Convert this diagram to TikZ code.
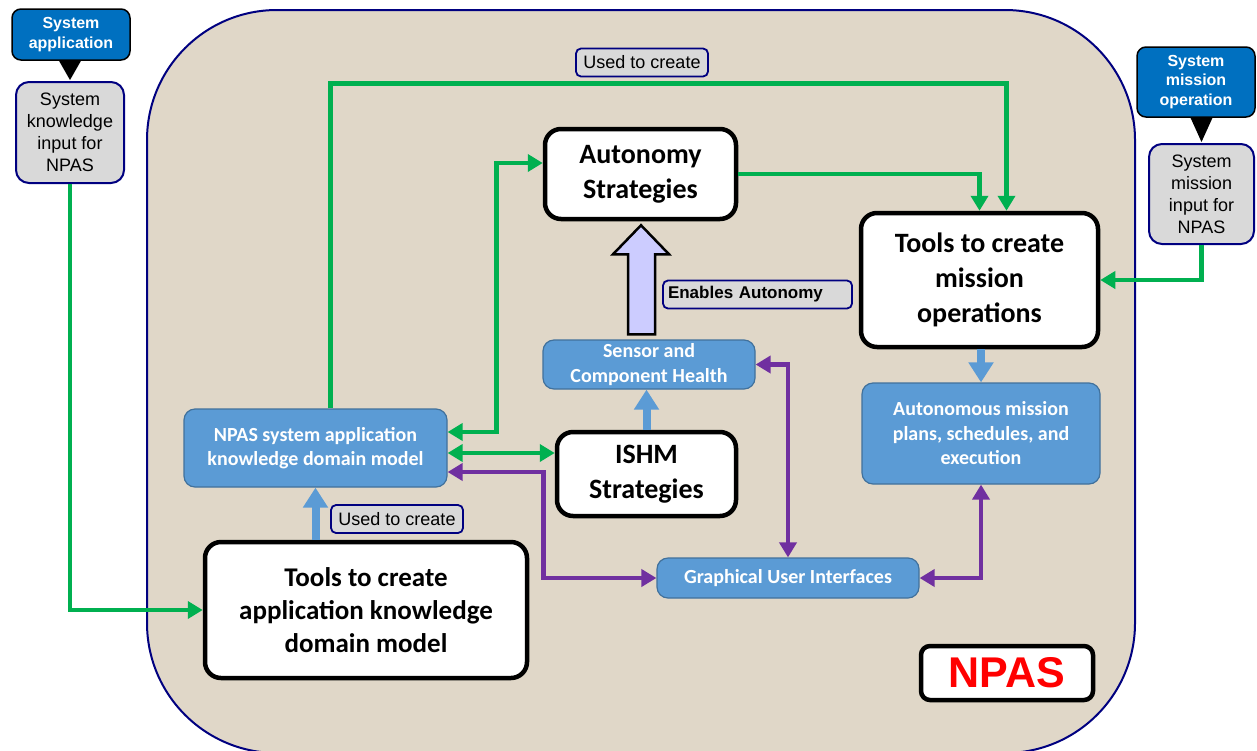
\documentclass[tikz,border=0pt]{standalone}
\usepackage{fontspec}
\newfontfamily\calibri{Carlito}
\newfontfamily\arial{Liberation Sans}
\usetikzlibrary{positioning, calc, arrows.meta}

\definecolor{bgbeige}{RGB}{224,215,200}
\definecolor{framenavy}{RGB}{0,0,128}
\definecolor{srcblue}{RGB}{0,112,192}
\definecolor{inputgray}{RGB}{217,217,217}
\definecolor{boxblue}{RGB}{91,155,213}
\definecolor{boxedge}{RGB}{65,113,156}
\definecolor{linkgreen}{RGB}{0,176,80}
\definecolor{linkpurple}{RGB}{112,48,160}
\definecolor{liftlavender}{RGB}{204,204,255}
\definecolor{npasred}{RGB}{255,0,0}

\tikzset{
    bigbox/.style={draw=black, line width=4.5pt, fill=white, rounded corners=16pt, align=center, inner sep=0pt,
        font=\calibri\bfseries\fontsize{28}{35}\selectfont},
    bluebox/.style={draw=boxedge, line width=1.2pt, fill=boxblue, rounded corners=11pt, align=center, inner sep=0pt,
        text=white, font=\calibri\bfseries\fontsize{20}{24.5}\selectfont},
    srcbox/.style={draw=black, line width=1.5pt, fill=srcblue, rounded corners=9pt, align=center, inner sep=0pt,
        text=white, font=\arial\bfseries\fontsize{16}{19.5}\selectfont},
    inbox/.style={draw=framenavy, line width=2pt, fill=inputgray, rounded corners=13pt, align=center, inner sep=0pt,
        font=\arial\fontsize{18}{22}\selectfont},
    tagbox/.style={draw=framenavy, line width=1.8pt, fill=inputgray, rounded corners=5pt, inner sep=0pt,
        minimum height=28pt, font=\arial\fontsize{18}{22}\selectfont},
    greenlink/.style={draw=linkgreen, line width=4.8pt},
    purplelink/.style={draw=linkpurple, line width=4.8pt, {Triangle[length=15pt, width=17pt]}-{Triangle[length=15pt, width=17pt]}},
    bluelift/.style={draw=boxblue, line width=8pt, -{Triangle[length=20pt, width=24pt]}},
}

\begin{document}
\begin{tikzpicture}[x=1pt, y=-1pt]
        \useasboundingbox (0,0) rectangle (1257,750);
        \fill[white] (0,0) rectangle (1257,750);
        \draw[draw=framenavy, line width=2pt, fill=bgbeige, rounded corners=130pt] (147,10) rectangle (1135,753);

        % inputs from outside
        \node[srcbox, minimum width=118pt, minimum height=51pt] (sysapp) at (71,34.5) {System\\application};
        \node[inbox, minimum width=108pt, minimum height=101pt] (sysknow) at (70,132.5) {System\\knowledge\\input for\\NPAS};
        \node[srcbox, minimum width=118pt, minimum height=70pt] (sysop) at (1196,82) {System\\mission\\operation};
        \node[inbox, minimum width=105pt, minimum height=100pt] (sysmis) at (1201.5,194) {System\\mission\\input for\\NPAS};

        \foreach \src/\dst in {sysapp/sysknow, sysop/sysmis} {
            \fill ($(\dst.north |- \src.south)+(-11,0)$) -- ++(22,0) -- ($(\dst.north)+(0,-1)$) -- cycle;
        }

        % NPAS boxes
        \node[bigbox, minimum width=322pt, minimum height=136pt, font=\calibri\bfseries\fontsize{27}{33}\selectfont] (tooldm) at (366,610) {Tools to create\\application knowledge\\domain model};
        \node[bluebox, minimum width=263pt, minimum height=78pt] (npasdm) at (315.5,448) {NPAS system application\\knowledge domain model};
        \node[bigbox, minimum width=191pt, minimum height=90pt] (auto) at (640.5,174) {Autonomy\\Strategies};
        \node[bluebox, minimum width=212pt, minimum height=49pt] (sensor) at (649,364.5) {Sensor and\\Component Health};
        \node[bigbox, minimum width=179pt, minimum height=84pt] (ishm) at (646.5,474) {ISHM\\Strategies};
        \node[bigbox, minimum width=237pt, minimum height=134pt] (toolmo) at (979.5,280) {Tools to create\\mission\\operations};
        \node[bluebox, minimum width=238pt, minimum height=101pt] (automp) at (981,433.5) {Autonomous mission\\plans, schedules, and\\execution};
        \node[bluebox, minimum width=262pt, minimum height=40pt] (gui) at (788,578) {Graphical User Interfaces};
        \node[draw=black, line width=4.5pt, fill=white, rounded corners=9pt, minimum width=172pt, minimum height=54pt, inner sep=0pt,
            text=npasred, font=\arial\bfseries\fontsize{43}{43}\selectfont] (npas) at (1007,673) {NPAS};

        \foreach \name/\x/\y in {usedtop/642/62.5, usedlow/397/519} {
            \node[tagbox, minimum width=132pt] (\name) at (\x,\y) {Used to create};
        }
        \node[tagbox, text width=179pt, inner xsep=5pt, align=left, font=\arial\bfseries\fontsize{17}{20}\selectfont] (enables) at (757.5,294.5) {Enables Autonomy};

        % green links
        \draw[greenlink, -{Triangle[length=15pt, width=17pt]}] (sysknow.south) |- (tooldm.west);
        \draw[greenlink, -{Triangle[length=15pt, width=17pt]}] ($(npasdm.north)+(15,0)$) -- ++(0,-325) -| ($(toolmo.north)+(27,0)$);
        \draw[greenlink, -{Triangle[length=15pt, width=17pt]}] (auto.east) -| (toolmo.north);
        \draw[greenlink, {Triangle[length=15pt, width=17pt]}-{Triangle[length=15pt, width=17pt]}] ($(npasdm.east)+(0,-16)$) -- ++(49,0) |- ($(auto.west)+(0,-11)$);
        \draw[greenlink, {Triangle[length=15pt, width=17pt]}-{Triangle[length=15pt, width=17pt]}] ($(npasdm.east)+(0,5)$) coordinate (ishmlink) -- (ishmlink -| ishm.west);
        \draw[greenlink, -{Triangle[length=15pt, width=17pt]}] (sysmis.south) |- (toolmo.east);

        % blue lifts
        \draw[bluelift] (npasdm.south |- tooldm.north) -- (npasdm.south);
        \draw[bluelift] (ishm.north) -- (ishm.north |- sensor.south);
        \draw[bluelift] (automp.north |- toolmo.south) -- (automp.north);

        % purple links
        \draw[purplelink] (sensor.east) -| (gui.north);
        \draw[purplelink] ($(npasdm.east)+(0,24)$) -- ++(96,0) |- (gui.west);
        \draw[purplelink] (gui.east) -| (automp.south);

        % enables autonomy
        \draw[draw=black, line width=2.5pt, fill=liftlavender] ($(auto.south)+(0.5,4)$) -- ++(28,29) -- ++(-14,0) -- ++(0,80) -- ++(-27,0) -- ++(0,-80) -- ++(-15,0) -- cycle;
    \end{tikzpicture}
\end{document}
